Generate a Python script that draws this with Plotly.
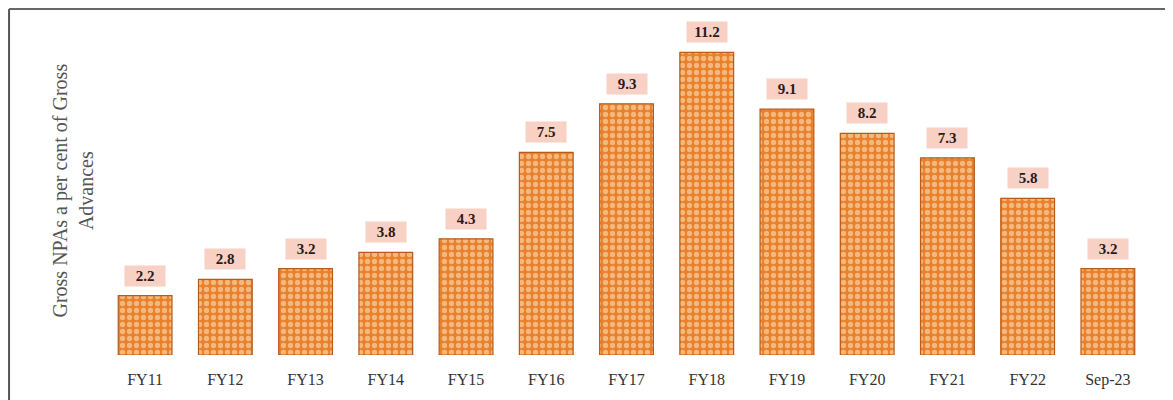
import plotly.graph_objects as go

categories = ["FY11", "FY12", "FY13", "FY14", "FY15", "FY16", "FY17", "FY18",
              "FY19", "FY20", "FY21", "FY22", "Sep-23"]
gnpa = [2.2, 2.8, 3.2, 3.8, 4.3, 7.5, 9.3, 11.2, 9.1, 8.2, 7.3, 5.8, 3.2]
value_labels = ["2.2", "2.8", "3.2", "3.8", "4.3", "7.5", "9.3", "11.2", "9.1", "8.2", "7.3", "5.8", "3.2"]
y_title = "Gross NPAs a per cent of Gross<br>Advances"

SERIF = "Liberation Serif, Times New Roman, serif"

fig = go.Figure()
fig.add_trace(go.Bar(
    x=categories, y=gnpa, width=0.67,
    marker=dict(
        color="#E8802C",
        line=dict(color="#B85A1A", width=1.2),
        pattern=dict(shape=".", fgcolor="#FFF0D0", bgcolor="#E8802C",
                     size=7, solidity=0.45, fillmode="overlay"),
    ),
    hoverinfo="skip",
))

for c, v, t in zip(categories, gnpa, value_labels):
    fig.add_annotation(
        x=c, y=v, text="<b>%s</b>" % t, showarrow=False,
        yanchor="bottom", yshift=9, bgcolor="#F8D0C4",
        width=38, height=18, borderpad=1,
        font=dict(family=SERIF, size=15, color="#2A1A1A"),
    )

fig.add_annotation(
    xref="paper", yref="paper", x=-0.031, y=0.49, text=y_title,
    textangle=-90, showarrow=False, xanchor="center", yanchor="middle",
    font=dict(family=SERIF, size=20, color="#555555"),
)

# frame
fig.add_shape(type="line", xref="paper", yref="paper", x0=-0.092, x1=-0.092,
              y0=1.033, y1=-0.2, line=dict(color="#555555", width=2))
fig.add_shape(type="line", xref="paper", yref="paper", x0=-0.092, x1=1.023,
              y0=1.033, y1=1.033, line=dict(color="#666666", width=2))
fig.add_shape(type="line", xref="paper", yref="paper", x0=1.022, x1=1.022,
              y0=1.033, y1=-0.2, line=dict(color="#DDDDDD", width=1))

fig.update_layout(
    width=1165, height=392,
    margin=dict(l=97, r=25, t=12, b=45),
    plot_bgcolor="white", paper_bgcolor="white",
    showlegend=False,
    xaxis=dict(showline=False, showgrid=False, ticks="outside", ticklen=10,
               tickcolor="rgba(0,0,0,0)",
               tickfont=dict(family=SERIF, size=16, color="#333333")),
    yaxis=dict(range=[0, 12.4], visible=False),
)

fig.write_html("out.html")
